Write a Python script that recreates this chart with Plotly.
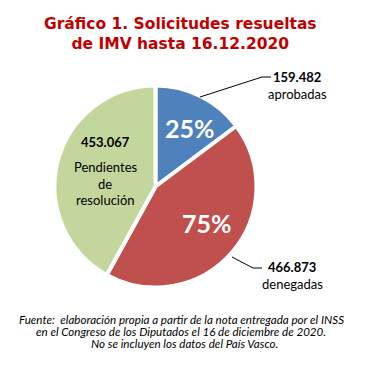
import plotly.graph_objects as go

labels = ["aprobadas", "denegadas", "Pendientes de resolución"]
values = [159482, 466873, 453067]
colors = ["#4F81BD", "#C0504D", "#C3D69B"]

W, H = 378, 368

def px(x, y):
    return x / W, 1 - y / H

def fmt(v):
    return f"{v:,}".replace(",", ".")

resolved = values[0] + values[1]
pct_ok = round(100 * values[0] / resolved)
pct_no = round(100 * values[1] / resolved)

cx, cy, r = 155.5, 186.5, 101
fig = go.Figure(go.Pie(
    labels=labels, values=values, sort=False, direction="clockwise", rotation=0,
    marker=dict(colors=colors, line=dict(color="white", width=4)),
    textinfo="none", hoverinfo="label+value", showlegend=False,
    domain=dict(x=[(cx - r) / W, (cx + r) / W], y=[1 - (cy + r) / H, 1 - (cy - r) / H]),
))

ann = []
def add(x, y, text, size, color="black", bold=False, italic=False, family="Lato"):
    t = text
    if bold:
        t = f"<b>{t}</b>"
    if italic:
        t = f"<i>{t}</i>"
    xx, yy = px(x, y)
    ann.append(dict(x=xx, y=yy, xref="paper", yref="paper", text=t, showarrow=False,
                    font=dict(size=size, color=color, family=family), xanchor="center", yanchor="middle"))

add(180, 34, "Gráfico 1. Solicitudes resueltas<br>de IMV hasta 16.12.2020", 15.5, color="#C00000", bold=True, family="DejaVu Sans")
add(297, 77, fmt(values[0]), 13, bold=True)
add(297, 94, labels[0], 13)
add(292, 267, fmt(values[1]), 13, bold=True)
add(292, 284, labels[1], 13)
add(105, 142, fmt(values[2]), 13, bold=True)
add(105, 167, "Pendientes", 13)
add(105, 184, "de", 13)
add(105, 200, "resolución", 13)
add(190, 128, f"{pct_ok}%", 25, color="white", bold=True)
add(207, 223, f"{pct_no}%", 25, color="white", bold=True)
add(181, 319, "Fuente:  elaboración propia a partir de la nota entregada por el INSS", 11.6, italic=True)
add(181, 331, "en el Congreso de los Diputados el 16 de diciembre de 2020.", 11.6, italic=True)
add(184, 343, "No se incluyen los datos del País Vasco.", 11.6, italic=True)

def line(points):
    d = "M " + " L ".join(f"{x/W},{1-y/H}" for x, y in points)
    return dict(type="path", xref="paper", yref="paper", path=d, line=dict(color="black", width=1))

shapes = [
    line([(200, 97), (262, 77), (271, 77)]),
    line([(232, 257), (253, 268), (262, 268)]),
]

fig.update_layout(width=W, height=H, margin=dict(l=0, r=0, t=0, b=0),
                  paper_bgcolor="white", plot_bgcolor="white",
                  annotations=ann, shapes=shapes)
fig.write_html("out.html", config={"displayModeBar": False},
               post_script="document.body.style.margin='0';")
